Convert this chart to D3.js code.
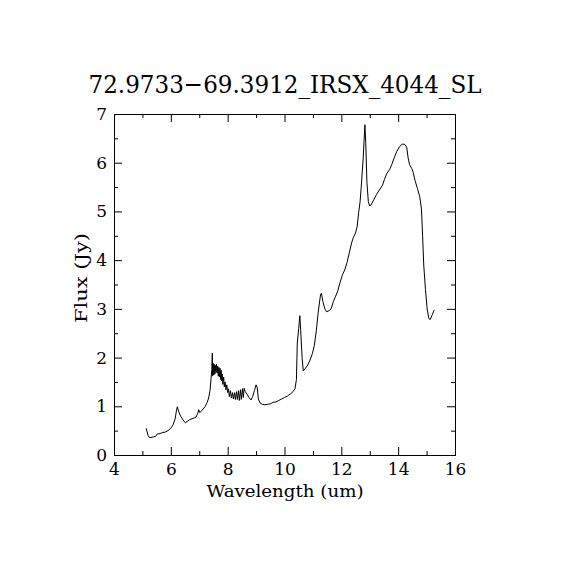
<!DOCTYPE html>
<html>
<head>
<meta charset="utf-8">
<script src="https://cdn.jsdelivr.net/npm/d3@7"></script>
<style>
  body { margin: 0; background: #fff; }
  text { font-family: "DejaVu Serif", "Liberation Serif", serif; fill: #000; }
</style>
</head>
<body>
<div id="chart"></div>
<script>
// spectrum
const wavelength = [
  5.13, 5.20, 5.24, 5.30, 5.38, 5.46, 5.52, 5.62, 5.70, 5.80, 5.90, 6.00, 6.08, 6.15, 6.20, 6.23,
  6.27, 6.35, 6.43, 6.51, 6.58, 6.67, 6.78, 6.89, 6.95, 6.98, 7.02, 7.10, 7.20, 7.28, 7.33, 7.38,
  7.42, 7.44, 7.46, 7.47, 7.49, 7.51, 7.53, 7.55, 7.57, 7.59, 7.61, 7.63, 7.65, 7.67, 7.69, 7.71,
  7.73, 7.75, 7.77, 7.79, 7.81, 7.83, 7.86, 7.88, 7.91, 7.94, 7.97, 8.00, 8.03, 8.06, 8.10, 8.13,
  8.17, 8.20, 8.24, 8.27, 8.31, 8.34, 8.38, 8.41, 8.45, 8.48, 8.52, 8.55, 8.58, 8.62, 8.68, 8.75,
  8.82, 8.88, 8.94, 9.00, 9.04, 9.08, 9.14, 9.22, 9.31, 9.40, 9.50, 9.60, 9.70, 9.80, 9.90, 10.00,
  10.10, 10.20, 10.30, 10.37, 10.42, 10.45, 10.50, 10.54, 10.57, 10.62, 10.66, 10.72, 10.80, 10.90,
  10.98, 11.05, 11.12, 11.18, 11.22, 11.27, 11.30, 11.35, 11.42, 11.48, 11.56, 11.64, 11.72, 11.80,
  11.88, 11.96, 12.04, 12.12, 12.20, 12.28, 12.36, 12.42, 12.50, 12.56, 12.61, 12.66, 12.70, 12.74,
  12.77, 12.80, 12.83, 12.86, 12.90, 12.95, 13.00, 13.06, 13.15, 13.24, 13.34, 13.45, 13.52, 13.60,
  13.70, 13.78, 13.86, 13.95, 14.05, 14.14, 14.22, 14.30, 14.35, 14.40, 14.48, 14.53, 14.60, 14.68,
  14.76, 14.82, 14.86, 14.90, 14.96, 15.02, 15.08, 15.13, 15.20, 15.27
];
const flux = [
  0.55, 0.40, 0.36, 0.36, 0.37, 0.38, 0.43, 0.44, 0.46, 0.47, 0.50, 0.55, 0.62, 0.74, 0.92, 0.99,
  0.90, 0.79, 0.72, 0.66, 0.69, 0.73, 0.75, 0.78, 0.86, 0.93, 0.87, 0.92, 0.99, 1.08, 1.17, 1.33,
  1.60, 1.75, 2.09, 1.62, 1.88, 1.64, 1.86, 1.66, 1.84, 1.70, 1.86, 1.68, 1.82, 1.62, 1.80, 1.60,
  1.78, 1.55, 1.74, 1.52, 1.66, 1.45, 1.60, 1.40, 1.50, 1.34, 1.44, 1.28, 1.36, 1.20, 1.32, 1.17,
  1.28, 1.15, 1.28, 1.14, 1.30, 1.14, 1.32, 1.12, 1.34, 1.14, 1.36, 1.18, 1.37, 1.30, 1.25, 1.18,
  1.13, 1.20, 1.32, 1.44, 1.38, 1.15, 1.07, 1.04, 1.03, 1.04, 1.05, 1.08, 1.09, 1.12, 1.15, 1.18,
  1.21, 1.25, 1.30, 1.36, 1.55, 2.30, 2.60, 2.86, 2.55, 2.00, 1.73, 1.77, 1.83, 1.95,
  2.08, 2.25, 2.55, 2.90, 3.08, 3.30, 3.32, 3.15, 3.00, 2.94, 2.96, 3.00, 3.15, 3.26,
  3.38, 3.55, 3.70, 3.80, 3.95, 4.15, 4.35, 4.46, 4.56, 4.70, 4.98, 5.20, 5.50, 5.85,
  6.10, 6.45, 6.78, 6.40, 5.60, 5.20, 5.11, 5.15, 5.25, 5.35, 5.44, 5.54, 5.66, 5.78,
  5.86, 5.97, 6.10, 6.23, 6.33, 6.38, 6.38, 6.32, 6.10, 5.96, 5.88, 5.80, 5.62, 5.47,
  5.30, 5.05, 4.50, 3.90, 3.40, 3.00, 2.80, 2.78, 2.88, 2.98
];
const xMajor = [4, 6, 8, 10, 12, 14, 16];
const xMinor = [5, 7, 9, 11, 13, 15];
const yMajor = [0, 1, 2, 3, 4, 5, 6, 7];
const yMinor = [0.5, 1.5, 2.5, 3.5, 4.5, 5.5, 6.5];
const title = "72.9733\u221269.3912_IRSX_4044_SL";

const width = 570, height = 570;
const plotLeft = 114, plotRight = 455, plotTop = 114, plotBottom = 455;

const svg = d3.select("#chart").append("svg")
  .attr("width", width)
  .attr("height", height);

const x = d3.scaleLinear().domain([4, 16]).range([plotLeft, plotRight]);
const y = d3.scaleLinear().domain([0, 7]).range([plotBottom, plotTop]);

const points = wavelength.map((w, i) => [w, flux[i]]);

svg.append("path")
  .datum(points)
  .attr("fill", "none")
  .attr("stroke", "#000")
  .attr("stroke-width", 1)
  .attr("d", d3.line().x((d) => x(d[0])).y((d) => y(d[1])));

// ticks point inward on all four sides
const addAxis = (axis, tx, ty, values, size, pad) => {
  const g = svg.append("g")
    .attr("transform", "translate(" + tx + "," + ty + ")")
    .call(axis.tickValues(values).tickSize(size).tickPadding(pad || 0)
      .tickFormat(pad ? d3.format("d") : () => ""));
  g.attr("font-family", null);
  g.select(".domain").attr("stroke", "#000");
  g.selectAll(".tick line").attr("stroke", "#000");
  g.selectAll("text").attr("font-size", 17);
  return g;
};

addAxis(d3.axisBottom(x), 0, plotBottom, xMajor, -8, 8);
addAxis(d3.axisBottom(x), 0, plotBottom, xMinor, -4);
addAxis(d3.axisTop(x), 0, plotTop, xMajor, -8);
addAxis(d3.axisTop(x), 0, plotTop, xMinor, -4);
addAxis(d3.axisLeft(y), plotLeft, 0, yMajor, -8, 7);
addAxis(d3.axisLeft(y), plotLeft, 0, yMinor, -4);
addAxis(d3.axisRight(y), plotRight, 0, yMajor, -8);
addAxis(d3.axisRight(y), plotRight, 0, yMinor, -4);

svg.selectAll(".domain").attr("stroke-width", 1);

svg.append("text")
  .attr("x", 285)
  .attr("y", 93)
  .attr("text-anchor", "middle")
  .attr("font-size", 25)
  .attr("textLength", 393)
  .attr("lengthAdjust", "spacingAndGlyphs")
  .text(title);

svg.append("text")
  .attr("x", 285)
  .attr("y", 497)
  .attr("text-anchor", "middle")
  .attr("font-size", 16)
  .attr("textLength", 157)
  .attr("lengthAdjust", "spacingAndGlyphs")
  .text("Wavelength (um)");

svg.append("text")
  .attr("transform", "translate(87,278) rotate(-90)")
  .attr("text-anchor", "middle")
  .attr("font-size", 16)
  .attr("textLength", 90)
  .attr("lengthAdjust", "spacingAndGlyphs")
  .text("Flux (Jy)");
</script>
</body>
</html>
